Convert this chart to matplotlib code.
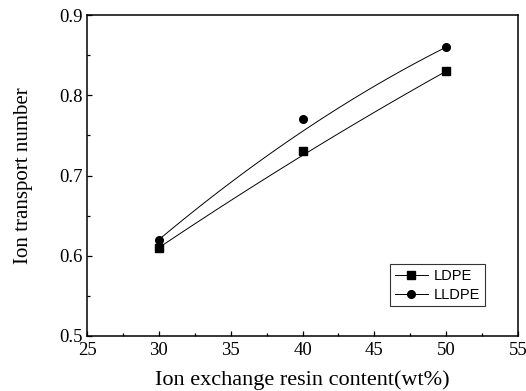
import numpy as np
import matplotlib.pyplot as plt
from matplotlib.ticker import MultipleLocator

# resin content (wt%) and measured transport numbers
content = [30, 40, 50]
ldpe = [0.61, 0.73, 0.83]
lldpe = [0.62, 0.77, 0.86]


def bspline(x, y, n=100):
    # quadratic B-spline (Bezier) using the three points as control points
    t = np.linspace(0, 1, n)
    x = np.asarray(x, float)
    y = np.asarray(y, float)
    bx = (1 - t) ** 2 * x[0] + 2 * t * (1 - t) * x[1] + t ** 2 * x[2]
    by = (1 - t) ** 2 * y[0] + 2 * t * (1 - t) * y[1] + t ** 2 * y[2]
    return bx, by


fig = plt.figure(figsize=(5.26, 3.91), dpi=100)
ax = fig.add_axes([0.1654, 0.1407, 0.8194, 0.8209])

for vals, mk, lab in [(ldpe, 's', 'LDPE'), (lldpe, 'o', 'LLDPE')]:
    sx, sy = bspline(content, vals)
    ax.plot(sx, sy, color='black', lw=0.7)
    ax.plot(content, vals, linestyle='none', marker=mk, ms=5.5, color='black')
    # legend entry: line with marker
    ax.plot([], [], color='black', lw=0.7, marker=mk, ms=5.5, label=lab)

ax.set_xlim(25, 55)
ax.set_ylim(0.5, 0.9)
ax.xaxis.set_major_locator(MultipleLocator(5))
ax.xaxis.set_minor_locator(MultipleLocator(2.5))
ax.yaxis.set_major_locator(MultipleLocator(0.1))
ax.yaxis.set_minor_locator(MultipleLocator(0.05))
ax.tick_params(which='both', direction='in', top=False, right=False, width=0.9)
ax.tick_params(which='major', length=3.6)
ax.tick_params(which='minor', length=2.2)

for lbl in ax.get_xticklabels() + ax.get_yticklabels():
    lbl.set_family('Liberation Serif')
    lbl.set_fontsize(13.5)
ax.tick_params(axis='x', pad=4.5)
ax.tick_params(axis='y', pad=3)

ax.set_xlabel('Ion exchange resin content(wt%)', family='Liberation Serif', fontsize=16, labelpad=8)
ax.set_ylabel('Ion transport number', family='Liberation Serif', fontsize=15, labelpad=19)

for s in ax.spines.values():
    s.set_linewidth(1.1)

leg = ax.legend(loc='lower right', bbox_to_anchor=(0.923, 0.093), borderaxespad=0,
                frameon=True, fancybox=False, edgecolor='black',
                prop={'family': 'Liberation Sans', 'size': 10.5},
                handlelength=2.3, borderpad=0.3, labelspacing=0.35, handletextpad=0.4)
leg.get_frame().set_linewidth(0.8)

fig.savefig('out.png', dpi=100)
